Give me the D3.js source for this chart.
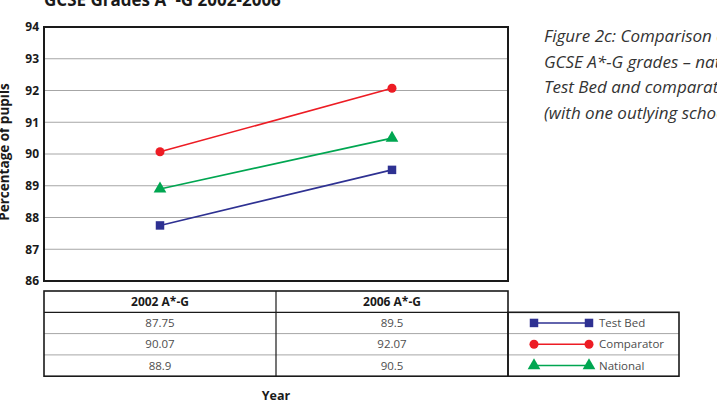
<!DOCTYPE html>
<html>
<head>
<meta charset="utf-8">
<script src="https://cdn.jsdelivr.net/npm/d3@7"></script>
<style>
body { margin: 0; background: #fff; }
svg { display: block; font-family: "Open Sans", "Noto Sans", sans-serif; }
</style>
</head>
<body>
<svg id="chart"></svg>
<script>
var width = 717
var height = 402

// data
var categories = ["2002 A*-G", "2006 A*-G"]
var seriesNames = ["Test Bed", "Comparator", "National"]
var testBed = [87.75, 89.5]
var comparator = [90.07, 92.07]
var national = [88.9, 90.5]
var tableText = [["87.75", "89.5"], ["90.07", "92.07"], ["88.9", "90.5"]]
var yTicks = [86, 87, 88, 89, 90, 91, 92, 93, 94]
var caption = ["Figure 2c: Comparison of", "GCSE A*-G grades \u2013 national,", "Test Bed and comparator schools", "(with one outlying school removed)"]

var colors = ["#2e3192", "#ed1c24", "#00a651"]
var shapes = [d3.symbolSquare, d3.symbolCircle, d3.symbolTriangle]
var symSize = [72, 64, 70]
var allSeries = [testBed, comparator, national]

var plotL = 44, plotR = 508, plotT = 27, plotB = 281

var svg = d3.select("#chart")
	.attr("width", width)
	.attr("height", height)

var x = d3.scaleBand()
	.domain(categories)
	.range([plotL, plotR])

var y = d3.scaleLinear()
	.domain([86, 94])
	.range([plotB, plotT])

// grid
svg.append("g")
	.selectAll("line")
	.data(yTicks)
	.join("line")
	.attr("x1", plotL)
	.attr("x2", plotR)
	.attr("y1", function(d){ return y(d) })
	.attr("y2", function(d){ return y(d) })
	.attr("stroke", "#a6a6a6")
	.attr("stroke-width", 1)

// y axis labels
var yAxis = svg.append("g")
	.attr("transform", "translate(" + plotL + ",0)")
	.call(d3.axisLeft(y).tickValues(yTicks).tickSize(0).tickPadding(5))
yAxis.select(".domain").remove()
yAxis.selectAll("text")
	.attr("font-family", "'Open Sans', sans-serif")
	.attr("font-size", 12)
	.attr("font-weight", "bold")
	.attr("fill", "#1a1a1a")

// plot frame
svg.append("rect")
	.attr("x", plotL)
	.attr("y", plotT)
	.attr("width", plotR - plotL)
	.attr("height", plotB - plotT)
	.attr("fill", "none")
	.attr("stroke", "#1a1a1a")
	.attr("stroke-width", 2)

// lines and markers
var line = d3.line()
	.x(function(d, i){ return x(categories[i]) + x.bandwidth() / 2 })
	.y(function(d){ return y(d) })

allSeries.forEach(function(s, k){
	svg.append("path")
		.attr("d", line(s))
		.attr("fill", "none")
		.attr("stroke", colors[k])
		.attr("stroke-width", 1.6)
	svg.append("g")
		.selectAll("path")
		.data(s)
		.join("path")
		.attr("d", d3.symbol().type(shapes[k]).size(symSize[k]))
		.attr("transform", function(d, i){
			return "translate(" + (x(categories[i]) + x.bandwidth() / 2) + "," + y(d) + ")"
		})
		.attr("fill", colors[k])
})

// title
svg.append("text")
	.attr("x", plotL)
	.attr("y", 6)
	.attr("font-size", 17)
	.attr("font-weight", "bold")
	.attr("fill", "#1a1a1a")
	.text("GCSE Grades A*-G 2002-2006")

// y axis title
svg.append("text")
	.attr("transform", "translate(9,152) rotate(-90)")
	.attr("text-anchor", "middle")
	.attr("font-size", 13.5)
	.attr("font-weight", "bold")
	.attr("fill", "#1a1a1a")
	.text("Percentage of pupils")

// data table
var tTop = 291, rowH = 21.3
var colX = [plotL, x("2006 A*-G"), plotR]
var legRight = 679
var tBottom = tTop + rowH * 4

var tbl = svg.append("g")

// gray row separators
tbl.selectAll("line.row")
	.data([2, 3])
	.join("line")
	.attr("class", "row")
	.attr("x1", plotL)
	.attr("x2", legRight)
	.attr("y1", function(d){ return tTop + rowH * d })
	.attr("y2", function(d){ return tTop + rowH * d })
	.attr("stroke", "#a6a6a6")

// header bottom line
tbl.append("line")
	.attr("x1", plotL).attr("x2", plotR)
	.attr("y1", tTop + rowH).attr("y2", tTop + rowH)
	.attr("stroke", "#1a1a1a").attr("stroke-width", 1.2)

tbl.append("line")
	.attr("x1", colX[1]).attr("x2", colX[1])
	.attr("y1", tTop).attr("y2", tBottom)
	.attr("stroke", "#1a1a1a").attr("stroke-width", 1.2)

tbl.append("rect")
	.attr("x", plotL).attr("y", tTop)
	.attr("width", plotR - plotL).attr("height", tBottom - tTop)
	.attr("fill", "none").attr("stroke", "#1a1a1a").attr("stroke-width", 1.6)

tbl.append("rect")
	.attr("x", plotR).attr("y", tTop + rowH)
	.attr("width", legRight - plotR).attr("height", rowH * 3)
	.attr("fill", "none").attr("stroke", "#1a1a1a").attr("stroke-width", 1.6)

tbl.selectAll("text.head")
	.data(categories)
	.join("text")
	.attr("class", "head")
	.attr("x", function(d){ return x(d) + x.bandwidth() / 2 })
	.attr("y", tTop + rowH / 2 + 4)
	.attr("text-anchor", "middle")
	.attr("font-size", 12)
	.attr("font-weight", "bold")
	.attr("fill", "#1a1a1a")
	.text(function(d){ return d })

tableText.forEach(function(row, r){
	tbl.append("g")
		.selectAll("text")
		.data(row)
		.join("text")
		.attr("x", function(d, i){ return x(categories[i]) + x.bandwidth() / 2 })
		.attr("y", tTop + rowH * (r + 1) + rowH / 2 + 4)
		.attr("text-anchor", "middle")
		.attr("font-size", 11.5)
		.attr("fill", "#4d4d4d")
		.text(function(d){ return d })
})

// legend inside table
seriesNames.forEach(function(name, k){
	var cy = tTop + rowH * (k + 1) + rowH / 2
	tbl.append("line")
		.attr("x1", 534).attr("x2", 589)
		.attr("y1", cy).attr("y2", cy)
		.attr("stroke", colors[k]).attr("stroke-width", 1.6)
	tbl.append("g")
		.selectAll("path")
		.data([534, 589])
		.join("path")
		.attr("d", d3.symbol().type(shapes[k]).size(symSize[k]))
		.attr("transform", function(d){ return "translate(" + d + "," + cy + ")" })
		.attr("fill", colors[k])
	tbl.append("text")
		.attr("x", 599)
		.attr("y", cy + 4)
		.attr("font-size", 11.5)
		.attr("fill", "#4d4d4d")
		.text(name)
})

// x axis title
svg.append("text")
	.attr("x", (plotL + plotR) / 2)
	.attr("y", 400)
	.attr("text-anchor", "middle")
	.attr("font-size", 12.5)
	.attr("font-weight", "bold")
	.attr("fill", "#1a1a1a")
	.text("Year")

// caption on the right
svg.append("g")
	.selectAll("text")
	.data(caption)
	.join("text")
	.attr("x", 544)
	.attr("y", function(d, i){ return 42 + i * 25.7 })
	.attr("font-size", 17)
	.attr("font-style", "italic")
	.attr("fill", "#333333")
	.text(function(d){ return d })
</script>
</body>
</html>
